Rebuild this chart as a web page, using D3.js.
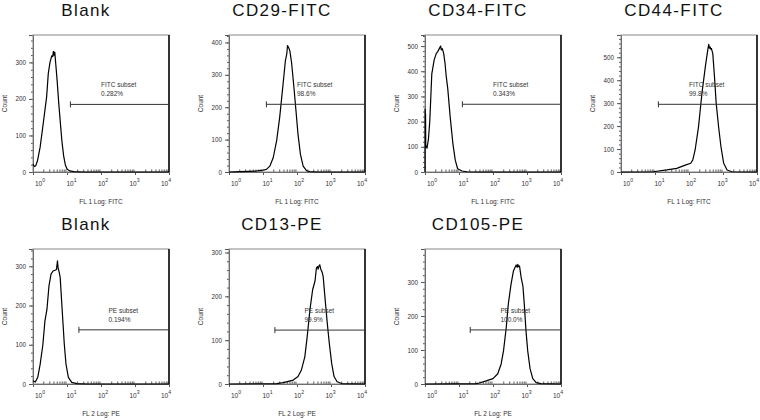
<!DOCTYPE html>
<meta charset="utf-8">
<style type="text/css">
  body { margin: 0; background: #fff; }
  svg { font-family: "Liberation Sans", Arial, sans-serif; }
  .box { fill: none; stroke: #888; stroke-width: 1; }
  .edge { stroke: #111; stroke-width: 1.6; }
  .curve { fill: none; stroke: #000; stroke-width: 1.2; stroke-linejoin: round; }
  .gate { stroke: #333; stroke-width: 1; fill: none; }
  .axis path, .axis line { stroke: #555; }
  .axis text { font-size: 6.3px; fill: #333; }
  .title { font-size: 17px; letter-spacing: 1.4px; fill: #111; }
  .small { font-size: 6.5px; fill: #333; }
</style>

<body>
</body>
<script src="https://d3js.org/d3.v7.min.js"></script>
<script>
  // histogram traces, x in decades (log10 of channel), y in counts

  var blankFitcLog = [0, 0.04, 0.08, 0.13, 0.21, 0.30, 0.40, 0.45, 0.50, 0.55, 0.58, 0.60, 0.62, 0.64, 0.67, 0.71, 0.76, 0.80, 0.85, 0.90, 0.95, 1.0, 1.08, 1.2, 1.5, 4];
  var blankFitcCount = [22, 15, 17, 30, 68, 132, 205, 270, 300, 318, 316, 330, 320, 328, 295, 250, 185, 140, 85, 45, 20, 8, 3, 1, 0, 0];

  var cd29Log = [0, 0.3, 0.6, 0.81, 1.0, 1.1, 1.2, 1.3, 1.4, 1.49, 1.59, 1.66, 1.70, 1.72, 1.75, 1.79, 1.84, 1.91, 1.97, 2.03, 2.10, 2.18, 2.28, 2.38, 2.6, 4];
  var cd29Count = [0, 1, 2, 3, 6, 8, 18, 44, 96, 168, 271, 345, 365, 390, 385, 374, 338, 261, 189, 116, 55, 18, 4, 1, 0, 0];

  var cd34Log = [0, 0.004, 0.01, 0.016, 0.022, 0.035, 0.06, 0.10, 0.14, 0.20, 0.27, 0.33, 0.37, 0.42, 0.46, 0.48, 0.51, 0.55, 0.59, 0.62, 0.67, 0.74, 0.82, 0.89, 0.96, 1.09, 1.23, 1.6, 4];
  var cd34Count = [0, 250, 150, 230, 110, 100, 95, 130, 200, 390, 445, 470, 477, 490, 500, 485, 490, 470, 431, 385, 330, 220, 113, 47, 13, 4, 1, 0, 0];

  var cd44Log = [0, 0.95, 1.35, 1.64, 1.89, 2.05, 2.11, 2.18, 2.28, 2.38, 2.48, 2.55, 2.58, 2.60, 2.62, 2.64, 2.66, 2.70, 2.75, 2.80, 2.87, 2.94, 3.02, 3.12, 3.26, 4];
  var cd44Count = [0, 1, 9, 16, 30, 38, 52, 96, 197, 342, 458, 530, 556, 540, 545, 535, 538, 516, 414, 299, 197, 110, 38, 9, 1, 0];

  var blankPeLog = [0, 0.07, 0.14, 0.21, 0.29, 0.35, 0.41, 0.47, 0.53, 0.59, 0.65, 0.69, 0.72, 0.74, 0.77, 0.80, 0.86, 0.92, 0.97, 1.04, 1.14, 1.29, 1.6, 4];
  var blankPeCount = [8, 5, 17, 50, 100, 160, 190, 250, 280, 288, 290, 292, 314, 295, 285, 271, 186, 102, 51, 17, 4, 1, 0, 0];

  var cd13Log = [0, 1.4, 1.59, 1.69, 1.89, 2.03, 2.13, 2.23, 2.30, 2.38, 2.46, 2.53, 2.57, 2.60, 2.62, 2.65, 2.67, 2.70, 2.74, 2.77, 2.82, 2.89, 2.95, 3.02, 3.09, 3.18, 3.31, 4];
  var cd13Count = [0, 1, 3, 5, 9, 17, 32, 62, 108, 169, 215, 235, 264, 268, 262, 270, 272, 262, 255, 245, 200, 139, 93, 47, 17, 5, 1, 0];

  var cd105Log = [0, 1.51, 1.60, 1.80, 2.00, 2.14, 2.24, 2.31, 2.39, 2.45, 2.53, 2.60, 2.68, 2.71, 2.73, 2.75, 2.78, 2.83, 2.88, 2.92, 2.97, 3.02, 3.09, 3.17, 3.27, 3.41, 4];
  var cd105Count = [0, 1, 3, 9, 16, 30, 59, 98, 166, 235, 293, 332, 350, 343, 352, 345, 347, 312, 288, 235, 157, 98, 45, 16, 4, 1, 0];

  var traceLogs = [blankFitcLog, cd29Log, cd34Log, cd44Log, blankPeLog, cd13Log, cd105Log];
  var traceCounts = [blankFitcCount, cd29Count, cd34Count, cd44Count, blankPeCount, cd13Count, cd105Count];

  var titles = ["Blank", "CD29-FITC", "CD34-FITC", "CD44-FITC", "Blank", "CD13-PE", "CD105-PE"];
  var axisTitles = ["FL 1 Log: FITC", "FL 1 Log: FITC", "FL 1 Log: FITC", "FL 1 Log: FITC",
    "FL 2 Log: PE", "FL 2 Log: PE", "FL 2 Log: PE"];
  var yMax = [375, 423, 544, 597, 344, 308, 397];
  var yTickTop = [300, 400, 500, 500, 300, 300, 300];
  var gateFrom = [1.1, 1.1, 1.1, 1.1, 1.35, 1.35, 1.33];
  var gateCount = [185, 209, 269, 295, 138, 123, 159];
  var subsetNames = ["FITC subset", "FITC subset", "FITC subset", "FITC subset", "PE subset", "PE subset", "PE subset"];
  var subsetPct = ["0.282%", "98.6%", "0.343%", "99.8%", "0.194%", "99.9%", "100.0%"];
  var labelAt = [2.0, 2.0, 2.0, 2.0, 2.22, 2.22, 2.22];
  var decades = [0, 1, 2, 3, 4];

  // layout
  var colLeft = [33, 229, 425, 621];
  var rowTop = [35, 249];
  var rowHeight = [137, 135];
  var w = 136;

  var svg = d3.select("body").append("svg")
    .attr("width", 760)
    .attr("height", 420);

  titles.forEach(function(title, i) {
    var row = i < 4 ? 0 : 1;
    var col = i < 4 ? i : i - 4;
    var h = rowHeight[row];

    var g = svg.append("g")
      .attr("transform", "translate(" + colLeft[col] + "," + rowTop[row] + ")");

    var x = d3.scaleLog().domain([1, 1e4]).range([0, w]);
    var labelX = d3.scaleLog().domain([1, 1e4]).range([7, w - 3]);
    var y = d3.scaleLinear().domain([0, yMax[i]]).range([h, 0]);

    // y axis, major + minor ticks
    g.append("g")
      .attr("class", "axis")
      .call(d3.axisLeft(y).tickValues(d3.range(0, yTickTop[i] + 1, 100)).tickSize(4).tickPadding(3));
    g.append("g")
      .attr("class", "axis")
      .call(d3.axisLeft(y).tickValues(d3.range(0, yMax[i], 20)).tickSize(2).tickFormat(""))
      .select(".domain").remove();

    // x axis: decades and the 2..9 minor ticks
    var minor = [];
    decades.slice(0, 4).forEach(function(d) {
      d3.range(2, 10).forEach(function(k) { minor.push(k * Math.pow(10, d)); });
    });
    g.append("g")
      .attr("class", "axis")
      .attr("transform", "translate(0," + h + ")")
      .call(d3.axisBottom(x).tickValues(decades.map(function(d) { return Math.pow(10, d); })).tickSize(3).tickFormat(""));
    g.append("g")
      .attr("class", "axis")
      .attr("transform", "translate(0," + h + ")")
      .call(d3.axisBottom(x).tickValues(minor).tickSize(-2.5).tickFormat(""))
      .select(".domain").remove();

    var lab = g.selectAll(".xlab")
      .data(decades)
      .enter().append("text")
      .attr("class", "small")
      .attr("text-anchor", "middle")
      .attr("x", function(d) { return labelX(Math.pow(10, d)); })
      .attr("y", h + 14)
      .text("10");
    lab.append("tspan")
      .attr("dy", -4)
      .style("font-size", "5.2px")
      .text(function(d) { return d; });

    // frame
    g.append("rect")
      .attr("class", "box")
      .attr("width", w)
      .attr("height", h);
    g.append("line")
      .attr("class", "edge")
      .attr("x1", w).attr("x2", w)
      .attr("y1", 0).attr("y2", h);

    // histogram
    var pts = traceLogs[i].map(function(v, j) { return [v, traceCounts[i][j]]; });
    var line = d3.line()
      .x(function(d) { return x(Math.pow(10, d[0])); })
      .y(function(d) { return y(d[1]); });
    g.append("path")
      .datum(pts)
      .attr("class", "curve")
      .attr("d", line);

    // gate marker
    var gy = y(gateCount[i]);
    var gx0 = x(Math.pow(10, gateFrom[i]));
    var gx1 = x(1e4);
    g.append("path")
      .attr("class", "gate")
      .attr("d", "M" + gx0 + "," + gy + "H" + gx1 +
        "M" + gx0 + "," + (gy - 3) + "V" + (gy + 3) +
        "M" + gx1 + "," + (gy - 3) + "V" + (gy + 3));
    g.append("text")
      .attr("class", "small")
      .attr("x", x(Math.pow(10, labelAt[i])))
      .attr("y", gy - 17)
      .text(subsetNames[i]);
    g.append("text")
      .attr("class", "small")
      .attr("x", x(Math.pow(10, labelAt[i])))
      .attr("y", gy - 8)
      .text(subsetPct[i]);

    // titles
    g.append("text")
      .attr("class", "title")
      .attr("text-anchor", "middle")
      .attr("x", w / 2 - 15)
      .attr("y", -19)
      .text(title);
    g.append("text")
      .attr("class", "small")
      .attr("text-anchor", "middle")
      .attr("transform", "translate(-26," + (h / 2) + ") rotate(-90)")
      .text("Count");
    g.append("text")
      .attr("class", "small")
      .attr("text-anchor", "middle")
      .attr("x", w / 2)
      .attr("y", h + 32)
      .text(axisTitles[i]);
  });
</script>
